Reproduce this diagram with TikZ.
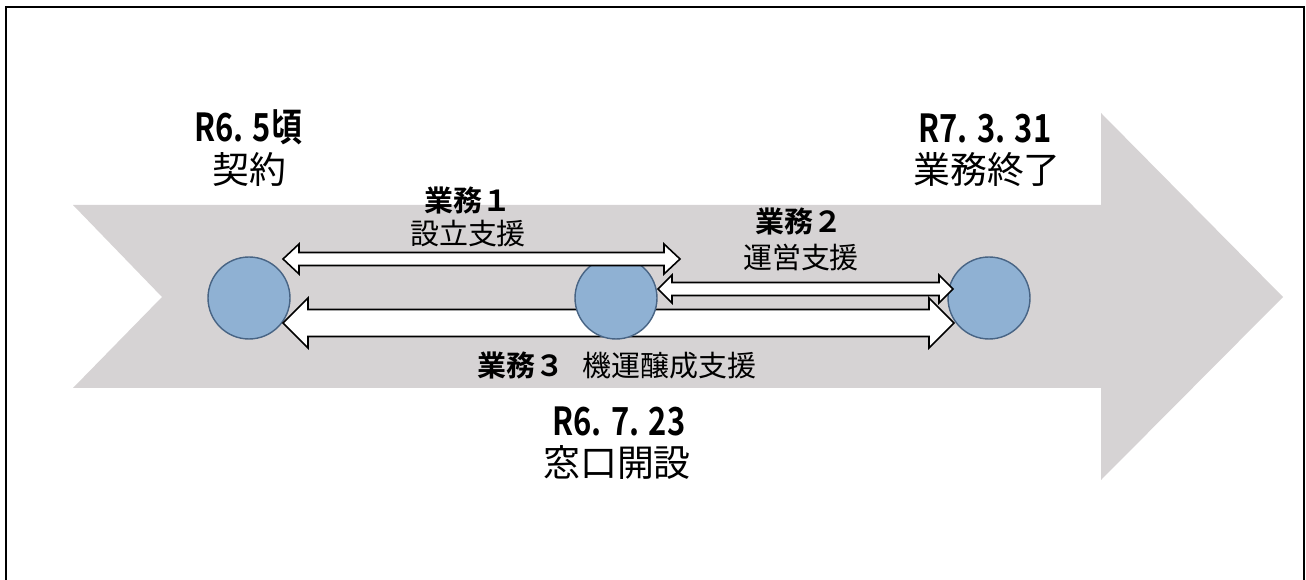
\documentclass[tikz,border=0pt]{standalone}
\usepackage{fontspec}
\setmainfont{Noto Sans CJK JP}[BoldFont={Noto Sans CJK JP Bold}]
\newfontfamily\datefont{Noto Sans CJK JP Bold}[FakeStretch=0.8]
\definecolor{flowgray}{RGB}{214,211,212}
\definecolor{dotblue}{RGB}{143,177,211}
\definecolor{dotedge}{RGB}{72,100,132}
\newcommand{\taskarrow}[5]{\draw[taskbar] (#1) -- ([shift={(#5,-#4)}]#1) -- ([shift={(#5,-#3)}]#1) -- ([shift={(-#5,-#3)}]#2) -- ([shift={(-#5,-#4)}]#2) -- (#2) -- ([shift={(-#5,#4)}]#2) -- ([shift={(-#5,#3)}]#2) -- ([shift={(#5,#3)}]#1) -- ([shift={(#5,#4)}]#1) -- cycle;}
\begin{document}
\begin{tikzpicture}[x = 0.02cm, y = -0.02cm,
  dot/.style = {circle, draw = dotedge, line width = 0.8pt, fill = dotblue, minimum size = 1.64cm, inner sep = 0pt},
  taskbar/.style = {draw = black, fill = white, line width = 0.9pt, line join = miter},
  datelbl/.style = {inner sep = 0pt, font = \datefont\fontsize{22}{26}\selectfont},
  eventlbl/.style = {inner sep = 0pt, font = \fontsize{21}{25}\selectfont},
  tasklbl/.style = {inner sep = 0pt, font = \fontsize{16.5}{20}\selectfont}]
\useasboundingbox (0,0) rectangle (1306,580);
\draw [line width = 1.4pt] (6,580) -- (6,7) -- (1304,7) -- (1304,580);
\fill [flowgray] (73,205) -- (1101,205) -- (1101,113) -- (1283,297) -- (1101,480) -- (1101,388) -- (73,388) -- (162,297) -- cycle;
\node [dot] (contract) at (249,298) {};
\node [dot] (finish) at (989,298) {};
\coordinate (t3w) at (283,323);
\coordinate (t3e) at (954,323);
\taskarrow{t3w}{t3e}{13.5}{25}{25}
\node [dot] (opening) at (616,298) {};
\coordinate (t1w) at (283,259);
\coordinate (t1e) at (680,259);
\taskarrow{t1w}{t1e}{6.5}{15}{16}
\coordinate (t2w) at (658,289);
\coordinate (t2e) at (953,289);
\taskarrow{t2w}{t2e}{6.5}{14}{14}
\node [datelbl] (d1) at (248,127) {R6. 5頃};
\node [eventlbl] (e1) at (249,170) {契約};
\node [datelbl] (d3) at (985,128) {R7. 3. 31};
\node [eventlbl] (e3) at (987,170) {業務終了};
\node [datelbl] (d2) at (619,421) {R6. 7. 23};
\node [eventlbl] (e2) at (617,463) {窓口開設};
\node [tasklbl] (k1) at (468,200) {\bfseries 業務１};
\node [tasklbl] (n1) at (468,234) {設立支援};
\node [tasklbl] (k2) at (799,221) {\bfseries 業務２};
\node [tasklbl] (n2) at (801,258) {運営支援};
\node [tasklbl] (k3) at (617,365) {{\bfseries 業務３}\hspace{0.6em}機運醸成支援};
\end{tikzpicture}
\end{document}
